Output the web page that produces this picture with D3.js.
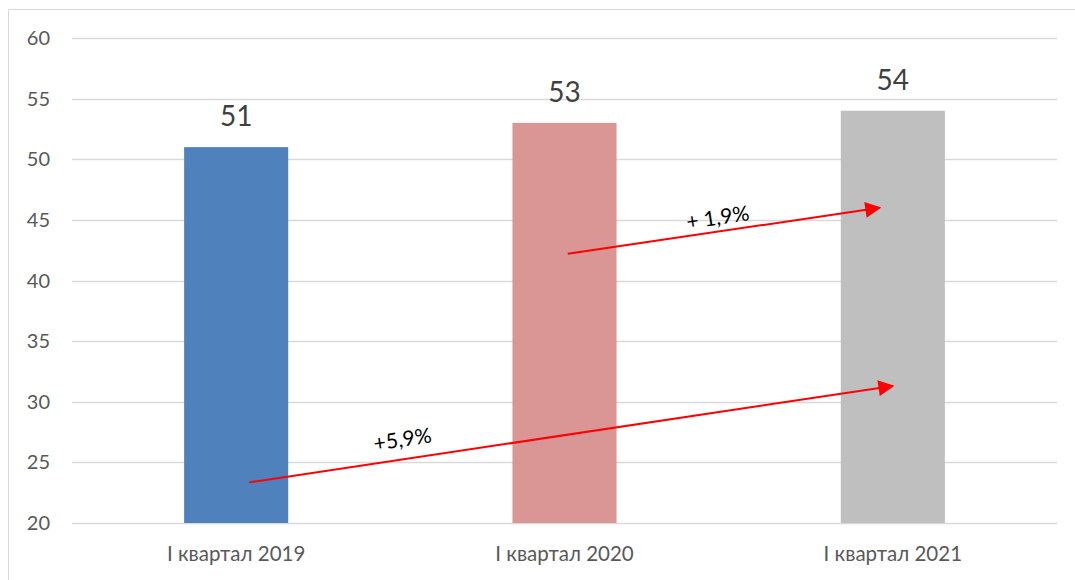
<!DOCTYPE html>
<html>
<head>
<meta charset="utf-8">
<script src="https://cdnjs.cloudflare.com/ajax/libs/d3/7.8.5/d3.min.js"></script>
<style>
  body { margin: 0; background: #fff; }
  text { font-family: Lato, "Open Sans", sans-serif; }
</style>
</head>
<body>
<div id="vis-container"></div>
<script>
// chart data
var categories = ["I квартал 2019", "I квартал 2020", "I квартал 2021"];
var values = [51, 53, 54];
var colors = ["#4F81BD", "#D99694", "#BFBFBF"];
var yTicks = [20, 25, 30, 35, 40, 45, 50, 55, 60];

// growth arrows: start/end as [category index offset, value]
var arrowLabels = ["+5,9%", "+ 1,9%"];
var arrowFrom = [[0.04, 23.35], [1.01, 42.2]];
var arrowTo = [[2.0, 31.3], [1.96, 46.0]];
var labelAt = [[0.51, 26.3], [1.47, 44.6]];

var width = 1075, height = 580;
var margin = {left: 72, right: 18, top: 38, bottom: 57};

var svg = d3.select("#vis-container")
  .append("svg")
  .attr("width", width)
  .attr("height", height);

// outer chart border (only top and left visible)
svg.append("path")
  .attr("d", "M8.5,590 V9.5 H1080")
  .attr("fill", "none")
  .attr("stroke", "#D9D9D9")
  .attr("stroke-width", 1);

var x = d3.scaleBand()
  .domain(categories)
  .range([margin.left, width - margin.right])
  .paddingInner(0.683)
  .paddingOuter(0.3415);

var y = d3.scaleLinear()
  .domain([20, 60])
  .range([height - margin.bottom, margin.top]);

// x position for fractional category index
var xc = function(v) {
  var step = x.step();
  return margin.left + step * (v + 0.5);
};

// gridlines
svg.append("g").selectAll("line")
  .data(yTicks)
  .join("line")
  .attr("x1", margin.left)
  .attr("x2", width - margin.right)
  .attr("y1", function(d) { return Math.round(y(d)) + 0.5; })
  .attr("y2", function(d) { return Math.round(y(d)) + 0.5; })
  .attr("stroke", "#D9D9D9")
  .attr("stroke-width", 1.5);

// y tick labels
svg.append("g").selectAll("text")
  .data(yTicks)
  .join("text")
  .attr("x", 50)
  .attr("y", function(d) { return y(d); })
  .attr("dy", "0.35em")
  .attr("text-anchor", "end")
  .attr("font-size", 20)
  .attr("fill", "#595959")
  .text(function(d) { return d; });

// bars
svg.append("g").selectAll("rect")
  .data(values)
  .join("rect")
  .attr("x", function(d, i) { return x(categories[i]); })
  .attr("width", x.bandwidth())
  .attr("y", function(d) { return y(d); })
  .attr("height", function(d) { return y(20) - y(d); })
  .attr("fill", function(d, i) { return colors[i]; });

// value labels
svg.append("g").selectAll("text")
  .data(values)
  .join("text")
  .attr("x", function(d, i) { return x(categories[i]) + x.bandwidth() / 2; })
  .attr("y", function(d) { return y(d) - 21; })
  .attr("text-anchor", "middle")
  .attr("font-size", 28)
  .attr("fill", "#404040")
  .text(function(d) { return d; });

// category labels
svg.append("g").selectAll("text")
  .data(categories)
  .join("text")
  .attr("x", function(d) { return x(d) + x.bandwidth() / 2; })
  .attr("y", y(20) + 38)
  .attr("text-anchor", "middle")
  .attr("font-size", 20.5)
  .attr("fill", "#595959")
  .text(function(d) { return d; });

// arrow head marker
svg.append("defs").append("marker")
  .attr("id", "head")
  .attr("viewBox", "0 0 10 10")
  .attr("refX", 9)
  .attr("refY", 5)
  .attr("markerWidth", 9)
  .attr("markerHeight", 8)
  .attr("markerUnits", "strokeWidth")
  .attr("orient", "auto")
  .append("path")
  .attr("d", "M0,0 L10,5 L0,10 Z")
  .attr("fill", "#FF0000");

for (var i = 0; i < arrowLabels.length; ++i) {
  var x1 = xc(arrowFrom[i][0]), y1 = y(arrowFrom[i][1]);
  var x2 = xc(arrowTo[i][0]), y2 = y(arrowTo[i][1]);
  svg.append("line")
    .attr("x1", x1).attr("y1", y1)
    .attr("x2", x2).attr("y2", y2)
    .attr("stroke", "#FF0000")
    .attr("stroke-width", 2)
    .attr("marker-end", "url(#head)");

  var angle = Math.atan2(y2 - y1, x2 - x1) * 180 / Math.PI;
  var lx = xc(labelAt[i][0]), ly = y(labelAt[i][1]);
  svg.append("text")
    .attr("transform", "translate(" + lx + "," + ly + ") rotate(" + angle + ")")
    .attr("text-anchor", "middle")
    .attr("font-size", 21)
    .attr("fill", "#000")
    .text(arrowLabels[i]);
}
</script>
</body>
</html>
